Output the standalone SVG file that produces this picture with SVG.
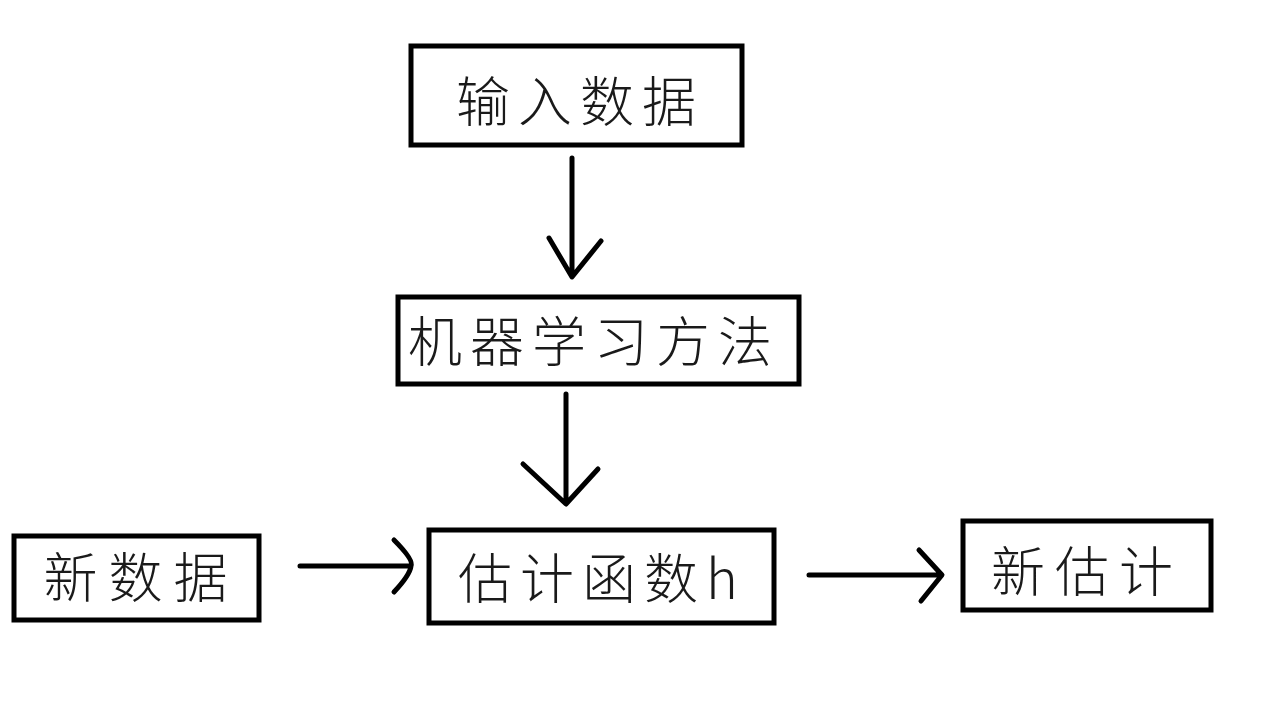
<svg xmlns="http://www.w3.org/2000/svg" width="1276" height="720" viewBox="0 0 1276 720">
<style>
.box{fill:#fff;stroke:#000;stroke-width:5}
.t{font-family:"Noto Sans CJK SC","Noto Sans",sans-serif;font-weight:300;font-size:54px;fill:#1a1a1a;text-anchor:middle;dominant-baseline:central}
.c{fill:none;stroke:#000;stroke-width:5;stroke-linecap:round;stroke-linejoin:round}
</style>
<rect width="1276" height="720" fill="#fff"/>
<g id="n1"><rect class="box" x="411" y="46" width="331" height="99"/><text class="t" x="580" y="98" letter-spacing="8">输入数据</text></g>
<g id="n2"><rect class="box" x="398" y="297" width="401" height="87"/><text class="t" x="594" y="338" letter-spacing="8">机器学习方法</text></g>
<g id="n3"><rect class="box" x="14" y="536" width="245" height="84"/><text class="t" x="141" y="574" font-size="52" letter-spacing="11">新数据</text></g>
<g id="n4"><rect class="box" x="429" y="530" width="345" height="93"/><text class="t" x="602" y="575" letter-spacing="8">估计函数h</text></g>
<g id="n5"><rect class="box" x="963" y="521" width="248" height="89"/><text class="t" x="1087" y="568" font-size="52" letter-spacing="10">新估计</text></g>
<g id="connectors">
<path class="c" d="M572 158V276M549 238L572 277L601 241"/>
<path class="c" d="M566 394V503M523 464L566 504L598 469"/>
<path class="c" d="M300 566H410M394 540Q414 560 411 566Q410 575 394 592"/>
<path class="c" d="M809 575H941M919 550L942 575L921 601"/>
</g>
</svg>
